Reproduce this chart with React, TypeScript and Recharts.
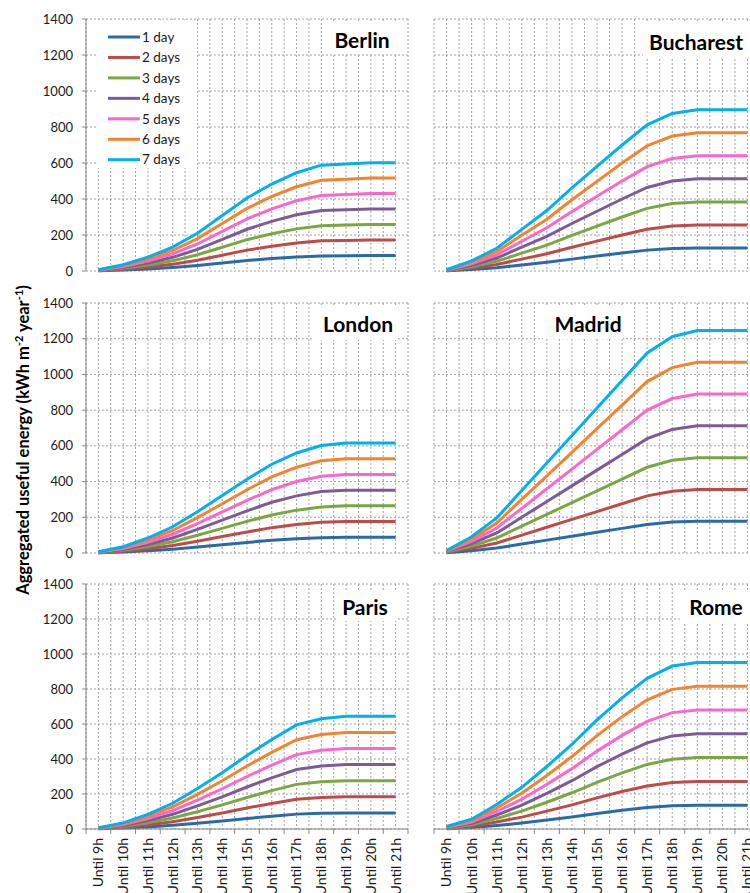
import React from "react";
import { LineChart, Line, XAxis, YAxis, CartesianGrid, Legend } from "recharts";

const hours = [
  "Until 9h", "Until 10h", "Until 11h", "Until 12h", "Until 13h", "Until 14h", "Until 15h",
  "Until 16h", "Until 17h", "Until 18h", "Until 19h", "Until 20h", "Until 21h",
];
const dayLabels = ["1 day", "2 days", "3 days", "4 days", "5 days", "6 days", "7 days"];
const dayColors = ["#2A6BA7", "#BE4B48", "#79A843", "#7D5B99", "#FF66CC", "#F5832E", "#00B0F0"];
const energyTicks = [0, 200, 400, 600, 800, 1000, 1200, 1400];

// aggregated useful energy (kWh m-2 year-1), one row per number of days
const berlin = [
  [1, 5, 11, 19, 30, 44, 58, 69, 78, 84, 85, 86, 86],
  [2, 10, 22, 38, 60, 88, 116, 138, 156, 168, 170, 172, 172],
  [3, 15, 33, 57, 90, 132, 174, 207, 234, 252, 255, 258, 258],
  [4, 20, 44, 76, 120, 176, 232, 276, 312, 336, 340, 344, 344],
  [5, 25, 55, 95, 150, 220, 290, 345, 390, 420, 425, 430, 430],
  [6, 30, 66, 114, 180, 264, 348, 414, 468, 504, 510, 516, 516],
  [7, 35, 77, 133, 210, 308, 406, 483, 546, 588, 595, 602, 602],
];
const bucharest = [
  [1, 8, 18, 33, 48, 66, 83, 100, 116, 125, 128, 128, 128],
  [2, 16, 36, 66, 96, 132, 166, 200, 232, 250, 256, 256, 256],
  [3, 24, 54, 99, 144, 198, 249, 300, 348, 375, 384, 384, 384],
  [4, 32, 72, 132, 192, 264, 332, 400, 464, 500, 512, 512, 512],
  [5, 40, 90, 165, 240, 330, 415, 500, 580, 625, 640, 640, 640],
  [6, 48, 108, 198, 288, 396, 498, 600, 696, 750, 768, 768, 768],
  [7, 56, 126, 231, 336, 462, 581, 700, 812, 875, 896, 896, 896],
];
const london = [
  [1, 5, 12, 21, 33, 46, 59, 71, 80, 86, 88, 88, 88],
  [2, 10, 24, 42, 66, 92, 118, 142, 160, 172, 176, 176, 176],
  [3, 15, 36, 63, 99, 138, 177, 213, 240, 258, 264, 264, 264],
  [4, 20, 48, 84, 132, 184, 236, 284, 320, 344, 352, 352, 352],
  [5, 25, 60, 105, 165, 230, 295, 355, 400, 430, 440, 440, 440],
  [6, 30, 72, 126, 198, 276, 354, 426, 480, 516, 528, 528, 528],
  [7, 35, 84, 147, 231, 322, 413, 497, 560, 602, 616, 616, 616],
];
const madrid = [
  [2, 13, 28, 50, 72, 94, 116, 138, 160, 173, 178, 178, 178],
  [4, 26, 56, 100, 144, 188, 232, 276, 320, 346, 356, 356, 356],
  [6, 39, 84, 150, 216, 282, 348, 414, 480, 519, 534, 534, 534],
  [8, 52, 112, 200, 288, 376, 464, 552, 640, 692, 712, 712, 712],
  [10, 65, 140, 250, 360, 470, 580, 690, 800, 865, 890, 890, 890],
  [12, 78, 168, 300, 432, 564, 696, 828, 960, 1038, 1068, 1068, 1068],
  [14, 91, 196, 350, 504, 658, 812, 966, 1120, 1211, 1246, 1246, 1246],
];
const paris = [
  [1, 5, 12, 21, 33, 46, 60, 73, 85, 90, 92, 92, 92],
  [2, 10, 24, 42, 66, 92, 120, 146, 170, 180, 184, 184, 184],
  [3, 15, 36, 63, 99, 138, 180, 219, 255, 270, 276, 276, 276],
  [4, 20, 48, 84, 132, 184, 240, 292, 340, 360, 368, 368, 368],
  [5, 25, 60, 105, 165, 230, 300, 365, 425, 450, 460, 460, 460],
  [6, 30, 72, 126, 198, 276, 360, 438, 510, 540, 552, 552, 552],
  [7, 35, 84, 147, 231, 322, 420, 511, 595, 630, 644, 644, 644],
];
const rome = [
  [2, 8, 20, 34, 51, 69, 89, 107, 123, 133, 136, 136, 136],
  [4, 16, 40, 68, 102, 138, 178, 214, 246, 266, 272, 272, 272],
  [6, 24, 60, 102, 153, 207, 267, 321, 369, 399, 408, 408, 408],
  [8, 32, 80, 136, 204, 276, 356, 428, 492, 532, 544, 544, 544],
  [10, 40, 100, 170, 255, 345, 445, 535, 615, 665, 680, 680, 680],
  [12, 48, 120, 204, 306, 414, 534, 642, 738, 798, 816, 816, 816],
  [14, 56, 140, 238, 357, 483, 623, 749, 861, 931, 952, 952, 952],
];

const FONT = "Lato, 'Open Sans', sans-serif";
const AXIS = "#868686";
const GRID = "#A0A0A0";

// panel placement on the page; title box is in page coordinates
const panels = [
  { city: "Berlin", values: berlin, left: 30, top: 5, height: 276, col: 0, row: 0, box: [330, 22, 68, 31], tx: 362, ty: 48 },
  { city: "Bucharest", values: bucharest, left: 430, top: 5, height: 276, col: 1, row: 0, box: [643, 22, 110, 35], tx: 696, ty: 50 },
  { city: "London", values: london, left: 30, top: 289, height: 274, col: 0, row: 1, box: [313, 305, 85, 35], tx: 358, ty: 332 },
  { city: "Madrid", values: madrid, left: 430, top: 289, height: 274, col: 1, row: 1, box: [543, 305, 80, 34], tx: 588, ty: 332 },
  { city: "Paris", values: paris, left: 30, top: 570, height: 329, col: 0, row: 2, box: [337, 590, 60, 31], tx: 365, ty: 615 },
  { city: "Rome", values: rome, left: 430, top: 570, height: 329, col: 1, row: 2, box: [682, 592, 70, 31], tx: 716, ty: 615 },
];

// gridlines and tick marks sit on category edges and centres
const xTicks = Array.from({ length: hours.length * 2 + 1 }, (_, j) => j / 2 - 0.5);

function toRows(values: number[][]) {
  return hours.map((hour, i) => {
    const row: Record<string, number | string> = { i, hour };
    values.forEach((s, k) => {
      row[`d${k + 1}`] = s[i];
    });
    return row;
  });
}

// keeps the ticks (and so the gridlines) but draws nothing
const NoTick = () => <g />;

function HourTick(props: any) {
  const { x, y, payload } = props;
  const v = payload.value as number;
  if (Number.isInteger(v)) {
    const ly = y + 9;
    return (
      <text
        x={x}
        y={ly}
        dy="0.35em"
        transform={`rotate(-90 ${x} ${ly})`}
        textAnchor="end"
        fontSize={14}
        fontFamily={FONT}
        fill="#1a1a1a"
      >
        {hours[v]}
      </text>
    );
  }
  return <line x1={x} y1={y} x2={x} y2={y + 5} stroke={AXIS} />;
}

function DayLegend(props: any) {
  const items = props.payload || [];
  return (
    <svg width={100} height={148} style={{ display: "block" }}>
      <rect x={0} y={0} width={100} height={148} fill="#fff" />
      {items.map((item: any, k: number) => {
        const cy = 17 + k * 20.45;
        return (
          <g key={item.value}>
            <line x1={11} x2={43} y1={cy} y2={cy} stroke={item.color} strokeWidth={3} />
            <text x={45} y={cy} dy="0.35em" fontSize={13.5} fontFamily={FONT} fill="#1a1a1a">
              {item.value}
            </text>
          </g>
        );
      })}
    </svg>
  );
}

function CityPanel({ panel }: { panel: (typeof panels)[number] }) {
  const isLeft = panel.col === 0;
  const isBottom = panel.row === 2;
  const data = toRows(panel.values);
  return (
    <div style={{ position: "absolute", left: panel.left, top: panel.top }}>
      <LineChart
        width={isLeft ? 380 : 332}
        height={panel.height}
        data={data}
        margin={{ top: 14, right: 2, bottom: isBottom ? 0 : 10, left: isLeft ? 0 : 4 }}
      >
        <CartesianGrid stroke={GRID} strokeDasharray="2 2" />
        <XAxis
          type="number"
          dataKey="i"
          domain={[-0.5, 12.5]}
          ticks={xTicks}
          interval={0}
          height={isBottom ? 70 : 0}
          tickSize={0}
          tickMargin={0}
          tickLine={false}
          tick={isBottom ? <HourTick /> : <NoTick />}
          axisLine={{ stroke: AXIS }}
        />
        <YAxis
          type="number"
          domain={[0, 1400]}
          ticks={energyTicks}
          interval={0}
          width={isLeft ? 56 : 0}
          tick={isLeft ? { fontSize: 13, fill: "#1a1a1a", fontFamily: FONT } : <NoTick />}
          tickSize={isLeft ? 4 : 0}
          tickMargin={isLeft ? 9 : 0}
          tickLine={isLeft ? { stroke: AXIS } : false}
          axisLine={isLeft ? { stroke: AXIS } : false}
        />
        {panel.city === "Berlin" && (
          <Legend
            layout="vertical"
            align="center"
            verticalAlign="middle"
            content={<DayLegend />}
            wrapperStyle={{ left: 67, top: 15, width: 100, height: 148 }}
          />
        )}
        {dayLabels.map((label, k) => (
          <Line
            key={label}
            type="linear"
            dataKey={`d${k + 1}`}
            name={label}
            stroke={dayColors[k]}
            strokeWidth={3}
            dot={false}
            activeDot={false}
            isAnimationActive={false}
          />
        ))}
      </LineChart>
    </div>
  );
}

export default function App() {
  return (
    <div
      style={{
        position: "absolute",
        left: 0,
        top: 0,
        width: 750,
        height: 893,
        overflow: "hidden",
        background: "#fff",
        fontFamily: FONT,
      }}
    >
      {panels.map((p) => (
        <CityPanel key={p.city} panel={p} />
      ))}
      <svg width={750} height={893} style={{ position: "absolute", left: 0, top: 0, pointerEvents: "none" }}>
        {panels.map((p) => (
          <g key={p.city}>
            <rect x={p.box[0]} y={p.box[1]} width={p.box[2]} height={p.box[3]} fill="#fff" />
            <text x={p.tx} y={p.ty} textAnchor="middle" fontSize={21} fontWeight={700} fontFamily={FONT} fill="#000">
              {p.city}
            </text>
          </g>
        ))}
        <text
          x={29}
          y={440}
          transform="rotate(-90 29 440)"
          textAnchor="middle"
          fontSize={16.5}
          fontWeight={700}
          fontFamily={FONT}
          fill="#000"
        >
          Aggregated useful energy (kWh m
          <tspan dy={-6} fontSize={11}>-2</tspan>
          <tspan dy={6}> year</tspan>
          <tspan dy={-6} fontSize={11}>-1</tspan>
          <tspan dy={6}>)</tspan>
        </text>
      </svg>
    </div>
  );
}
